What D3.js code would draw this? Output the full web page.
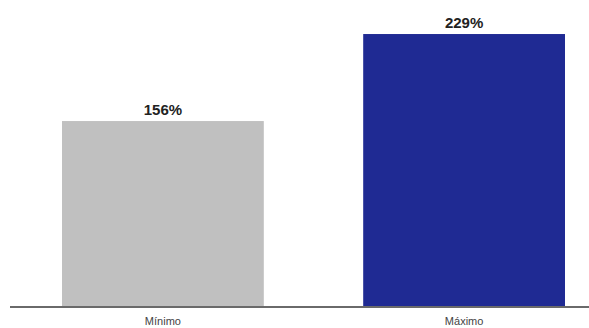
<!DOCTYPE html>
<html>
<head>
<meta charset="utf-8">
<script src="https://cdn.jsdelivr.net/npm/d3@7"></script>
<style>
  html, body { margin: 0; padding: 0; background: #fff; }
  svg { display: block; }
</style>
</head>
<body>
<svg id="chart" width="589" height="328"></svg>
<script>
const categories = ["Mínimo", "Máximo"];
const values = [156, 229];
const valueLabels = ["156%", "229%"];
const colors = ["#c0c0c0", "#1f2a93"];

const svg = d3.select("#chart");
const baseY = 307;

const x = d3.scaleBand()
  .domain(categories)
  .range([62, 565])
  .paddingInner(0.33)
  .paddingOuter(0);

const y = d3.scaleLinear()
  .domain([0, 250])
  .range([baseY, 9]);

svg.selectAll("rect.bar")
  .data(values)
  .join("rect")
  .attr("class", "bar")
  .attr("x", (d, i) => x(categories[i]))
  .attr("width", x.bandwidth())
  .attr("y", d => y(d))
  .attr("height", d => y(0) - y(d))
  .attr("fill", (d, i) => colors[i]);

svg.selectAll("text.vlabel")
  .data(values)
  .join("text")
  .attr("class", "vlabel")
  .attr("x", (d, i) => x(categories[i]) + x.bandwidth() / 2)
  .attr("y", d => y(d) - 6)
  .attr("text-anchor", "middle")
  .attr("font-family", "Liberation Sans, Arial, sans-serif")
  .attr("font-weight", "bold")
  .attr("font-size", 15)
  .attr("fill", "#222")
  .text((d, i) => valueLabels[i]);

const axis = d3.axisBottom(x).tickSize(0).tickPadding(0);
const g = svg.append("g").attr("transform", `translate(0,${baseY})`).call(axis);
g.select(".domain").remove();
g.append("line")
  .attr("x1", 10).attr("x2", 589)
  .attr("y1", 0).attr("y2", 0)
  .attr("stroke", "#6a6a6a").attr("stroke-width", 2);
g.selectAll(".tick text")
  .attr("dy", 0)
  .attr("y", 18)
  .attr("font-family", "Liberation Sans, Arial, sans-serif")
  .attr("font-size", 11)
  .attr("fill", "#444");
</script>
</body>
</html>
